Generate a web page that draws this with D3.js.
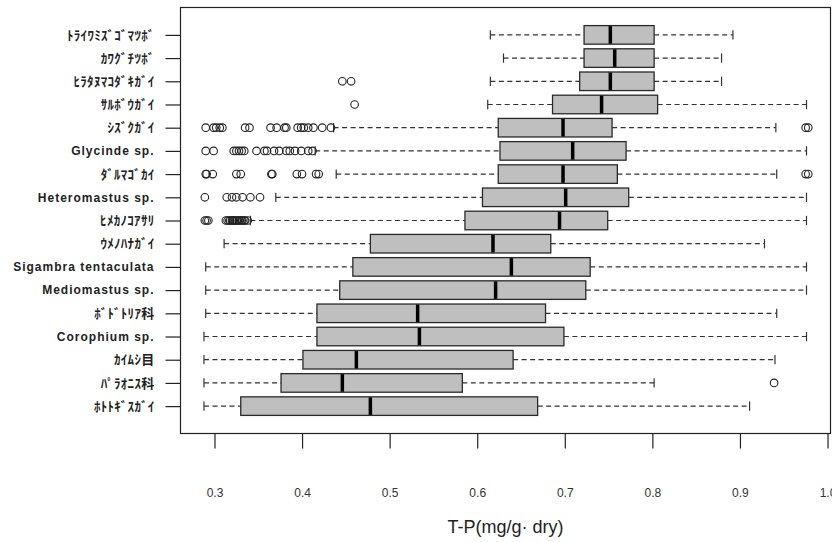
<!DOCTYPE html>
<html>
<head>
<meta charset="utf-8">
<script src="https://cdn.jsdelivr.net/npm/d3@7"></script>
<style>
  html, body { margin: 0; padding: 0; background: #fff; }
  svg { display: block; }
</style>
</head>
<body>
<svg id="chart" width="832" height="542"></svg>
<script>
// Species, listed from top row to bottom row
const species = [
  "ﾄﾗｲﾜﾐｽﾞｺﾞﾏﾂﾎﾞ", "ｶﾜｸﾞﾁﾂﾎﾞ", "ﾋﾗﾀﾇﾏｺﾀﾞｷｶﾞｲ", "ｻﾙﾎﾞｳｶﾞｲ", "ｼｽﾞｸｶﾞｲ",
  "Glycinde sp.", "ﾀﾞﾙﾏｺﾞｶｲ", "Heteromastus sp.", "ﾋﾒｶﾉｺｱｻﾘ", "ｳﾒﾉﾊﾅｶﾞｲ",
  "Sigambra tentaculata", "Mediomastus sp.", "ﾎﾞﾄﾞﾄﾘｱ科", "Corophium sp.",
  "ｶｲﾑｼ目", "ﾊﾟﾗｵﾆｽ科", "ﾎﾄﾄｷﾞｽｶﾞｲ"
];

// Five-number summaries of T-P (mg/g dry) per species
const whiskerLow = [0.615, 0.630, 0.615, 0.612, 0.436, 0.415, 0.439, 0.370, 0.341, 0.311,
                    0.290, 0.290, 0.290, 0.288, 0.288, 0.288, 0.288];
const q1         = [0.722, 0.722, 0.717, 0.686, 0.624, 0.626, 0.624, 0.606, 0.586, 0.478,
                    0.458, 0.443, 0.417, 0.417, 0.401, 0.376, 0.330];
const median     = [0.752, 0.757, 0.752, 0.742, 0.698, 0.709, 0.698, 0.701, 0.694, 0.618,
                    0.639, 0.621, 0.532, 0.534, 0.462, 0.446, 0.478];
const q3         = [0.802, 0.802, 0.802, 0.806, 0.754, 0.770, 0.760, 0.773, 0.749, 0.684,
                    0.729, 0.724, 0.678, 0.699, 0.641, 0.583, 0.669];
const whiskerHigh= [0.892, 0.879, 0.879, 0.976, 0.941, 0.976, 0.942, 0.976, 0.976, 0.928,
                    0.976, 0.976, 0.942, 0.976, 0.940, 0.802, 0.911];

// Outlying observations per species
const outliers = [
  [],
  [],
  [0.446, 0.456],
  [0.460],
  [0.290, 0.299, 0.302, 0.306, 0.309, 0.335, 0.340, 0.364, 0.371, 0.380, 0.382,
   0.395, 0.399, 0.402, 0.407, 0.413, 0.423, 0.433, 0.975, 0.978],
  [0.290, 0.299, 0.322, 0.325, 0.328, 0.331, 0.334, 0.348, 0.357, 0.360, 0.368,
   0.374, 0.382, 0.386, 0.392, 0.399, 0.407, 0.412],
  [0.290, 0.291, 0.298, 0.325, 0.330, 0.365, 0.366, 0.394, 0.400, 0.416, 0.419,
   0.975, 0.978],
  [0.289, 0.314, 0.320, 0.325, 0.332, 0.341, 0.352],
  [0.289, 0.291, 0.293, 0.313, 0.315, 0.317, 0.318, 0.320, 0.321, 0.322, 0.323,
   0.325, 0.326, 0.328, 0.329, 0.331, 0.332, 0.334, 0.335, 0.338],
  [],
  [],
  [],
  [],
  [],
  [],
  [0.939],
  []
];

const xTicks = [0.3, 0.4, 0.5, 0.6, 0.7, 0.8, 0.9, 1.0];
const xTitle = "T-P(mg/g· dry)";

const svg = d3.select("#chart");

const plot = { left: 180.5, right: 830.5, top: 7.5, bottom: 433.5 };
const n = species.length;

// Value axis, padded 4% beyond the data range
const x = d3.scaleLinear().domain([0.2612, 1.0034]).range([plot.left, plot.right]);
// Row positions: row 1 at the bottom, row n at the top, with 4% padding
const yPad = 0.04 * n;
const y = d3.scaleLinear().domain([0.5 - yPad, n + 0.5 + yPad]).range([plot.bottom, plot.top]);

const rows = species.map((name, i) => ({
  name,
  pos: n - i,
  lo: whiskerLow[i], q1: q1[i], med: median[i], q3: q3[i], hi: whiskerHigh[i],
  out: outliers[i]
}));

const boxH = y(0) - y(0.8);
const stapleH = y(0) - y(0.4);

const g = svg.append("g");

const row = g.selectAll("g.row").data(rows).join("g").attr("class", "row");

// dashed whiskers
const whiskerStyle = sel => sel
  .attr("stroke", "#333").attr("stroke-width", 1.2).attr("stroke-dasharray", "5,3.5");
row.append("line")
  .attr("x1", d => x(d.lo)).attr("x2", d => x(d.q1))
  .attr("y1", d => y(d.pos)).attr("y2", d => y(d.pos))
  .call(whiskerStyle);
row.append("line")
  .attr("x1", d => x(d.q3)).attr("x2", d => x(d.hi))
  .attr("y1", d => y(d.pos)).attr("y2", d => y(d.pos))
  .call(whiskerStyle);

// staples
row.append("line")
  .attr("x1", d => x(d.lo)).attr("x2", d => x(d.lo))
  .attr("y1", d => y(d.pos) - stapleH / 2).attr("y2", d => y(d.pos) + stapleH / 2)
  .attr("stroke", "#333").attr("stroke-width", 1.2);
row.append("line")
  .attr("x1", d => x(d.hi)).attr("x2", d => x(d.hi))
  .attr("y1", d => y(d.pos) - stapleH / 2).attr("y2", d => y(d.pos) + stapleH / 2)
  .attr("stroke", "#333").attr("stroke-width", 1.2);

// boxes
row.append("rect")
  .attr("x", d => x(d.q1)).attr("width", d => x(d.q3) - x(d.q1))
  .attr("y", d => y(d.pos) - boxH / 2).attr("height", boxH)
  .attr("fill", "#bfbfbf").attr("stroke", "#2a2a2a").attr("stroke-width", 1.3);

// medians
row.append("line")
  .attr("x1", d => x(d.med)).attr("x2", d => x(d.med))
  .attr("y1", d => y(d.pos) - boxH / 2 + 0.5).attr("y2", d => y(d.pos) + boxH / 2 - 0.5)
  .attr("stroke", "#000").attr("stroke-width", 3.5);

// outliers
row.selectAll("circle").data(d => d.out.map(v => ({ v, pos: d.pos }))).join("circle")
  .attr("cx", d => x(d.v)).attr("cy", d => y(d.pos)).attr("r", 3.8)
  .attr("fill", "none").attr("stroke", "#222").attr("stroke-width", 1.1);

// frame
g.append("rect")
  .attr("x", plot.left).attr("y", plot.top)
  .attr("width", plot.right - plot.left).attr("height", plot.bottom - plot.top)
  .attr("fill", "none").attr("stroke", "#222").attr("stroke-width", 1.2);

// bottom axis
const xAxis = d3.axisBottom(x).tickValues(xTicks).tickFormat(d3.format(".1f"))
  .tickSize(15).tickPadding(0).tickSizeOuter(0);
const xg = svg.append("g").attr("transform", `translate(0,${plot.bottom})`).call(xAxis);
xg.select(".domain").remove();
xg.selectAll(".tick line").attr("stroke", "#222").attr("stroke-width", 1.2);
xg.selectAll(".tick text")
  .attr("y", 59).attr("dy", "0.35em")
  .attr("font-family", "Liberation Sans, Arial, sans-serif")
  .attr("font-size", 12).attr("fill", "#333");

// left axis with species names
const yAxis = d3.axisLeft(y).tickValues(rows.map(d => d.pos))
  .tickFormat(p => rows.find(r => r.pos === p).name)
  .tickSize(15).tickPadding(11).tickSizeOuter(0);
const yg = svg.append("g").attr("transform", `translate(${plot.left},0)`).call(yAxis);
yg.select(".domain").remove();
yg.selectAll(".tick line").attr("stroke", "#222").attr("stroke-width", 1.2);
const isKana = s => /[\uFF61-\uFF9F]/.test(s);
yg.selectAll(".tick text")
  .attr("font-family", p => isKana(rows.find(r => r.pos === p).name)
    ? "'Noto Sans CJK JP', sans-serif" : "Liberation Sans, sans-serif")
  .attr("font-weight", "bold")
  .attr("font-size", p => isKana(rows.find(r => r.pos === p).name) ? 13 : 12)
  .attr("letter-spacing", p => isKana(rows.find(r => r.pos === p).name) ? 0.3 : 1)
  .attr("fill", "#222");

// axis title
svg.append("text")
  .attr("x", (plot.left + plot.right) / 2).attr("y", 527).attr("dy", "0.35em")
  .attr("text-anchor", "middle")
  .attr("font-family", "Liberation Sans, Arial, sans-serif")
  .attr("font-size", 18).attr("fill", "#222")
  .text(xTitle);
</script>
</body>
</html>
